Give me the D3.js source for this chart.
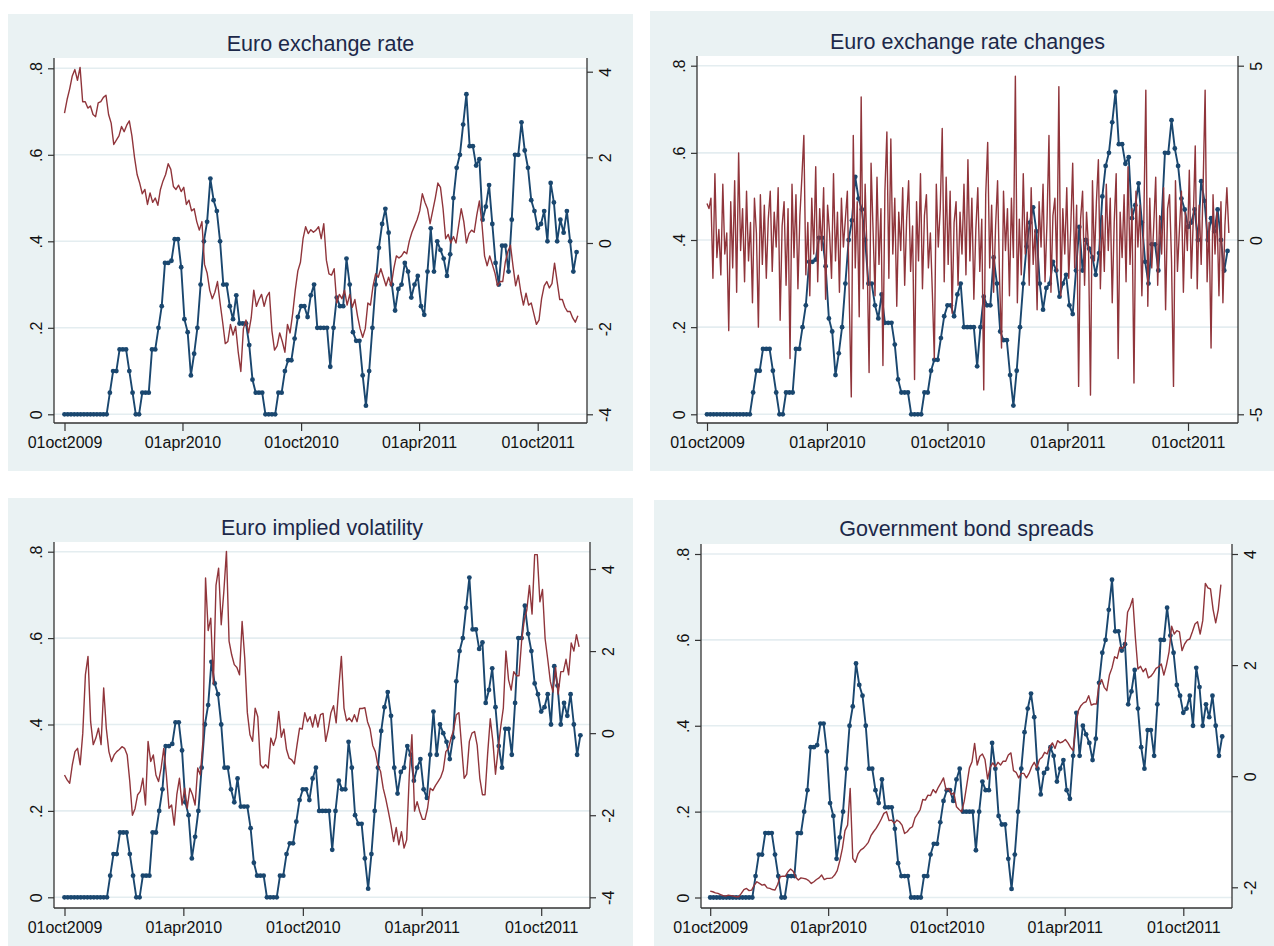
<!DOCTYPE html>
<html>
<head>
<meta charset="utf-8">
<script src="https://cdn.jsdelivr.net/npm/d3@7"></script>
<style>
body{margin:0;background:#fff;}
svg text{font-family:"Liberation Sans",Arial,sans-serif;}
</style>
</head>
<body>
<svg></svg>
<script>

// ---- data ----
var startDate = new Date(2009, 9, 1)

// blue series (left axis), one value every 5 days
var shareStep = 5
var share = [0,0,0,0,0,0,0,0,0,0,
    0,0,0,0,.05,.1,.1,.15,.15,.15,
    .1,.05,0,0,.05,.05,.05,.15,.15,.2,
    .25,.35,.35,.355,.405,.405,.34,.22,.19,.09,
    .14,.2,.3,.4,.445,.545,.495,.47,.4,.3,
    .3,.25,.22,.275,.21,.21,.21,.16,.08,.05,
    .05,.05,0,0,0,0,.05,.05,.1,.125,
    .125,.175,.225,.25,.25,.225,.275,.3,.2,.2,
    .2,.2,.11,.2,.27,.25,.25,.36,.3,.19,
    .17,.17,.09,.02,.1,.2,.3,.385,.44,.475,
    .42,.3,.24,.29,.3,.35,.33,.27,.3,.32,
    .25,.23,.33,.43,.33,.4,.38,.36,.32,.37,
    .5,.57,.6,.67,.74,.62,.62,.575,.59,.45,
    .48,.53,.44,.35,.3,.39,.39,.33,.45,.6,
    .6,.675,.61,.57,.495,.47,.43,.44,.47,.4,
    .535,.49,.4,.45,.42,.47,.4,.33,.375]

// red series (right axis), one value every 4 days
var levelStep = 4
var fxLevel = [3.03,3.35,3.6,3.9,4.05,3.8,4.1,3.3,3.3,3.15,
    3.2,3.0,2.95,3.27,3.3,3.4,3.45,3.0,2.8,2.3,
    2.4,2.5,2.72,2.6,2.75,2.85,2.5,2.0,1.6,1.4,
    1.15,1.25,0.9,1.17,0.95,1.05,0.88,1.25,1.45,1.6,
    1.85,1.72,1.32,1.25,1.35,1.2,1.3,0.9,1.0,0.75,
    0.8,0.5,0.3,0.5,-0.5,-0.7,-1.1,-1.3,-1.15,-0.9,
    -1.4,-1.85,-2.35,-2.3,-1.9,-2.15,-1.95,-2.55,-3.0,-2.0,
    -1.8,-2.1,-1.75,-1.1,-1.48,-1.32,-1.2,-1.48,-1.25,-1.15,
    -2.05,-2.5,-2.4,-2.1,-2.3,-2.55,-1.9,-2.1,-1.65,-1.1,
    -0.65,-0.45,0.1,0.38,0.22,0.31,0.25,0.3,0.38,0.1,
    0.45,-0.4,-0.72,-0.75,-0.6,-1.4,-1.2,-1.3,-1.1,-1.45,
    -1.2,-1.5,-1.32,-1.7,-2.0,-2.2,-2.0,-1.4,-1.45,-1.0,
    -0.72,-0.8,-0.6,-0.8,-1.0,-0.8,-1.0,-0.6,-0.3,-0.35,
    -0.3,-0.2,-0.25,0.05,0.25,0.4,0.55,0.75,1.15,0.95,
    0.8,0.45,0.75,1.05,1.4,1.3,0.8,0.1,0.2,0.0,
    0.15,0.0,0.4,0.8,0.5,0.0,0.22,0.3,0.25,0.65,
    0.98,0.45,-0.3,-0.53,-0.3,-0.5,-0.7,-1.0,-0.9,-0.9,
    -0.45,-0.2,-0.05,-0.55,-1.0,-0.75,-1.15,-1.45,-1.17,-1.45,
    -1.4,-1.65,-1.9,-1.8,-1.3,-1.0,-0.9,-1.05,-0.95,-0.47,
    -0.9,-1.32,-1.32,-1.5,-1.6,-1.6,-1.75,-1.85,-1.7]

var impliedVol = [-1.02,-1.14,-1.22,-0.77,-0.45,-0.37,-0.77,0.0,1.42,1.87,
    0.28,-0.28,-0.12,0.12,-0.28,1.1,0.12,-0.45,-0.69,-0.53,
    -0.45,-0.4,-0.33,-0.37,-0.53,-1.18,-2.0,-1.84,-1.5,-1.42,
    -1.1,-1.75,-0.2,-0.69,-0.53,-1.02,-1.18,-0.85,-0.37,-1.02,
    -1.83,-1.75,-2.24,-1.5,-1.1,-1.75,-1.34,-1.83,-1.34,-1.5,
    -1.75,-0.85,-1.02,-0.2,3.78,2.5,2.8,1.2,3.6,4.02,
    2.64,3.45,4.43,2.24,1.91,1.67,1.6,1.42,2.72,1.83,
    0.5,-0.04,-0.2,0.61,0.4,-0.77,-0.85,-0.77,-0.85,-0.12,
    -0.3,-0.1,0.53,-0.1,0.1,-0.4,-0.61,-0.65,-0.75,-0.3,
    0.12,0.1,0.5,0.28,0.4,0.15,0.45,0.15,0.45,0.48,
    -0.2,0.1,0.5,0.67,0.25,1.1,1.87,0.61,0.3,0.37,
    0.28,0.45,0.28,0.6,0.6,0.62,0.28,0.1,-0.3,-0.45,
    -0.8,-0.93,-1.34,-1.6,-1.91,-2.24,-2.64,-2.3,-2.72,-2.4,
    -2.8,-2.6,-1.02,-0.04,-1.9,-1.67,-1.91,-2.1,-2.1,-1.83,
    -1.34,-1.4,-1.28,-1.18,-1.08,-0.9,-0.45,-0.37,-0.12,0.08,
    0.45,0.5,-0.3,-1.1,-1.0,-0.2,0.0,0.04,-0.3,-1.1,
    -1.5,-1.5,-0.5,0.35,-0.2,-1.0,-0.4,0.15,0.61,2.0,
    1.3,1.05,1.5,1.4,1.4,2.24,2.75,3.0,3.6,2.9,
    4.35,4.35,3.2,3.5,2.3,1.8,1.26,1.0,1.6,0.95,
    1.5,1.5,1.8,1.42,2.2,2.0,2.4,2.1]

var bondSpread = [-2.07,-2.08,-2.1,-2.11,-2.13,-2.15,-2.16,-2.14,-2.15,-2.16,
    -2.17,-2.17,-2.11,-2.04,-2.02,-2.06,-2.05,-1.96,-1.9,-1.93,
    -1.96,-1.95,-2.01,-2.02,-2.04,-2.05,-1.95,-1.81,-1.8,-1.8,
    -1.72,-1.67,-1.71,-1.82,-1.87,-1.83,-1.84,-1.85,-1.88,-1.93,
    -1.9,-1.86,-1.83,-1.78,-1.86,-1.84,-1.84,-1.83,-1.78,-1.7,
    -1.52,-1.3,-0.98,-0.88,-0.22,-1.48,-1.55,-1.4,-1.33,-1.3,
    -1.25,-1.19,-1.07,-1.0,-0.94,-0.86,-0.77,-0.67,-0.64,-0.8,
    -0.79,-0.85,-0.79,-0.82,-0.88,-1.03,-1.0,-0.94,-0.91,-0.75,
    -0.68,-0.6,-0.42,-0.43,-0.34,-0.35,-0.24,-0.3,-0.2,-0.12,
    -0.03,-0.25,-0.22,-0.33,-0.3,-0.55,-0.6,-0.64,-0.45,-0.15,
    0.15,0.26,0.59,0.2,0.36,0.4,0.3,-0.05,0.16,0.24,
    0.17,0.25,0.2,0.27,0.27,0.38,0.42,0.1,0.07,-0.03,
    0.05,0.05,-0.03,0.05,0.17,0.25,0.15,0.3,0.34,0.43,
    0.4,0.53,0.6,0.5,0.64,0.6,0.62,0.66,0.6,0.52,
    0.46,0.9,1.18,1.27,1.32,1.34,1.45,1.28,1.3,1.3,
    1.66,1.74,1.6,1.54,1.82,1.95,2.15,2.12,2.32,2.3,
    2.36,2.95,3.05,3.2,2.5,1.93,1.98,1.88,1.94,1.77,
    1.8,1.86,1.94,1.97,2.02,1.82,2.0,2.24,2.7,2.56,
    2.62,2.6,2.26,2.38,2.45,2.47,2.6,2.74,2.78,2.56,
    2.8,3.47,3.39,3.37,3.0,2.76,3.0,3.45]

// changes, one value every 3 days
var changeStep = 3
var fxChange = [1.05,0.9,1.2,-1.1,1.9,-0.5,0.3,-1.0,1.6,-0.4,
    0.2,-2.6,1.1,-0.8,1.7,-1.5,2.5,-0.3,0.9,-1.2,
    1.4,-0.6,0.5,-1.8,1.2,0.2,-2.5,1.3,-0.7,1.0,
    -1.1,0.6,1.4,-0.9,0.8,-0.2,1.5,-2.3,0.4,1.1,
    -1.3,0.9,-3.4,1.6,-0.5,1.3,-1.4,0.7,1.8,3.0,
    -1.0,0.5,-1.6,1.2,-0.4,2.1,-1.2,0.9,-0.3,1.5,
    -1.7,1.0,0.2,-1.1,1.9,-0.6,0.8,-1.5,1.2,-0.2,
    0.6,1.4,-1.8,-4.5,3.0,-0.8,1.1,-2.2,4.1,-1.4,
    1.6,-0.5,-3.8,2.2,0.3,-1.6,1.8,-0.7,0.9,-3.6,
    1.4,3.1,-1.1,2.9,-0.4,1.2,-1.9,0.8,-0.3,1.5,
    -1.3,0.6,1.7,-0.9,0.4,-4.0,1.1,-0.6,1.9,-1.4,
    0.7,1.3,-0.8,0.2,-1.5,-3.4,1.6,-0.2,0.9,3.2,
    -1.2,1.8,-0.7,1.4,-2.1,0.5,1.1,-1.3,0.8,-0.4,
    1.6,-1.0,2.3,-0.6,1.2,-1.7,0.3,1.5,-0.9,0.6,
    -4.3,1.3,2.8,-0.8,1.0,-1.5,0.4,1.7,-1.1,-3.1,
    1.4,-0.3,0.9,-1.6,1.2,-0.5,4.7,-1.8,0.6,-1.0,
    1.9,-0.4,0.8,-1.3,1.5,-0.7,0.3,-2.0,1.1,-0.2,
    1.6,-1.2,0.5,3.0,-1.5,0.7,1.2,-0.9,4.4,-1.6,
    0.9,-0.4,1.5,-1.1,0.3,2.2,-0.8,1.0,-4.2,0.6,
    1.4,-1.3,0.8,-0.2,-4.45,1.7,-0.6,1.1,2.3,-1.4,
    0.7,-0.9,1.6,-0.3,1.2,-1.8,0.5,1.9,-3.4,0.8,
    -0.5,1.3,-1.2,2.1,-0.7,0.9,-4.1,1.4,-0.2,1.0,
    -1.6,0.6,4.3,-1.9,1.2,-0.8,0.4,1.8,-1.3,0.7,
    -0.4,1.5,-2.0,0.9,1.3,-0.6,-4.2,1.7,-0.9,0.3,
    1.4,-1.5,0.8,-0.3,2.0,-1.1,0.6,2.7,-1.4,1.0,
    -0.7,1.6,4.3,-1.2,0.5,-3.1,1.3,-0.4,0.8,-1.6,
    1.1,-1.8,0.4,1.5,0.2]

var titles = ["Euro exchange rate", "Euro exchange rate changes", "Euro implied volatility", "Government bond spreads"]
var xTickLabels = ["01oct2009", "01apr2010", "01oct2010", "01apr2011", "01oct2011"]
var leftTicks = [0, .2, .4, .6, .8]
var leftTickLabels = ["0", ".2", ".4", ".6", ".8"]
var rightTicks = [[-4, -2, 0, 2, 4], [-5, 0, 5], [-4, -2, 0, 2, 4], [-2, 0, 2, 4]]
var rightDomains = [[-4, 4], [-5, 5], [-4, 4], [-2, 4]]
var rightSeries = [fxLevel, fxChange, impliedVol, bondSpread]
var rightSteps = [levelStep, changeStep, levelStep, levelStep]

// ---- layout (pixels) ----
var layout = [
    {bg:[8,14,625,457],  plot:[54,587,58,423],   xr:[64.5,537.7],   yl:[414.3,68.3],  yr:[414.3,71.7],  ty:51},
    {bg:[650,11,624,460], plot:[697,1238,56,423], xr:[707,1188],     yl:[414.3,65.7],  yr:[414.3,65.7],  ty:49},
    {bg:[8,498,625,448], plot:[54,590,542,908],  xr:[64.5,541.2],   yl:[897.3,551.7], yr:[897.3,569],   ty:535},
    {bg:[654,500,620,446], plot:[701,1232,544,908], xr:[710.2,1183.3], yl:[897.5,554], yr:[887.3,554],   ty:536}
]

var navy = "#1a476f"
var maroon = "#90353b"
var parseDay = d3.timeParse("%d%b%Y")
var xTicks = xTickLabels.map(parseDay)

var toPoints = function(values, step)
{
    return values.map(function(v, i){
        return {date: d3.timeDay.offset(startDate, i * step), value: v}
    })
}

var svg = d3.select("svg")
    .attr("width", 1274)
    .attr("height", 946)

var styleAxis = function(g)
{
    g.select(".domain").remove()
    g.selectAll("line").attr("stroke", "#333").attr("stroke-width", 1.2)
    g.selectAll("text")
        .attr("font-family", "Liberation Sans, Arial, sans-serif")
        .attr("font-size", "16px")
        .attr("fill", "#111")
}

var drawPanel = function(k)
{
    var L = layout[k]
    var left = L.plot[0], right = L.plot[1], top = L.plot[2], bottom = L.plot[3]
    var g = svg.append("g")

    g.append("rect")
        .attr("x", L.bg[0]).attr("y", L.bg[1])
        .attr("width", L.bg[2]).attr("height", L.bg[3])
        .attr("fill", "#eaf2f3")

    g.append("rect")
        .attr("x", left).attr("y", top)
        .attr("width", right - left).attr("height", bottom - top)
        .attr("fill", "#fff")

    g.append("text")
        .attr("x", (left + right) / 2)
        .attr("y", L.ty)
        .attr("text-anchor", "middle")
        .attr("font-size", "21.5px")
        .attr("fill", "#1c2849")
        .text(titles[k])

    var xScale = d3.scaleTime().domain([xTicks[0], xTicks[4]]).range(L.xr)
    var yLeft = d3.scaleLinear().domain([0, .8]).range(L.yl)
    var yRight = d3.scaleLinear().domain(rightDomains[k]).range(L.yr)

    // grid lines on the left axis
    g.selectAll(".grid")
        .data(leftTicks)
        .enter()
        .append("line")
        .attr("x1", left).attr("x2", right)
        .attr("y1", function(d){ return yLeft(d) })
        .attr("y2", function(d){ return yLeft(d) })
        .attr("stroke", "#e4edf0")
        .attr("stroke-width", 1.6)

    // blue connected series
    var shareData = toPoints(share, shareStep)
    var blueLine = d3.line()
        .x(function(d){ return xScale(d.date) })
        .y(function(d){ return yLeft(d.value) })

    g.append("path")
        .datum(shareData)
        .attr("d", blueLine)
        .attr("fill", "none")
        .attr("stroke", navy)
        .attr("stroke-width", 1.9)
        .attr("stroke-linejoin", "round")

    g.selectAll(".dot")
        .data(shareData)
        .enter()
        .append("circle")
        .attr("cx", function(d){ return xScale(d.date) })
        .attr("cy", function(d){ return yLeft(d.value) })
        .attr("r", 2.4)
        .attr("fill", navy)

    // red series on the right axis
    var redLine = d3.line()
        .x(function(d){ return xScale(d.date) })
        .y(function(d){ return yRight(d.value) })

    g.append("path")
        .datum(toPoints(rightSeries[k], rightSteps[k]))
        .attr("d", redLine)
        .attr("fill", "none")
        .attr("stroke", maroon)
        .attr("stroke-width", 1.4)
        .attr("stroke-linejoin", "round")

    // axis lines
    g.append("line").attr("x1", left).attr("x2", left).attr("y1", top).attr("y2", bottom)
        .attr("stroke", "#333").attr("stroke-width", 1.3)
    g.append("line").attr("x1", right).attr("x2", right).attr("y1", top).attr("y2", bottom)
        .attr("stroke", "#333").attr("stroke-width", 1.3)
    g.append("line").attr("x1", left).attr("x2", right).attr("y1", bottom).attr("y2", bottom)
        .attr("stroke", "#333").attr("stroke-width", 1.3)

    var leftAxis = d3.axisLeft(yLeft)
        .tickValues(leftTicks)
        .tickFormat(function(d, i){ return leftTickLabels[i] })
        .tickSize(6)
        .tickSizeOuter(0)

    g.append("g")
        .attr("transform", "translate(" + left + ",0)")
        .call(leftAxis)
        .call(styleAxis)
        .selectAll("text")
        .attr("x", null)
        .attr("text-anchor", "middle")
        .attr("dy", "0.36em")
        .attr("transform", "translate(-18,0) rotate(-90)")

    var rightAxis = d3.axisRight(yRight)
        .tickValues(rightTicks[k])
        .tickFormat(function(d){ return String(d) })
        .tickSize(6)
        .tickSizeOuter(0)

    g.append("g")
        .attr("transform", "translate(" + right + ",0)")
        .call(rightAxis)
        .call(styleAxis)
        .selectAll("text")
        .attr("x", null)
        .attr("text-anchor", "middle")
        .attr("dy", "0.36em")
        .attr("transform", "translate(18,0) rotate(-90)")

    var xAxis = d3.axisBottom(xScale)
        .tickValues(xTicks)
        .tickFormat(function(d, i){ return xTickLabels[i] })
        .tickSize(8)
        .tickSizeOuter(0)

    g.append("g")
        .attr("transform", "translate(0," + bottom + ")")
        .call(xAxis)
        .call(styleAxis)
        .selectAll("text")
        .attr("y", 25)
        .attr("dy", null)
}

for (var k = 0; k < 4; k++) {
    drawPanel(k)
}
</script>
</body>
</html>
